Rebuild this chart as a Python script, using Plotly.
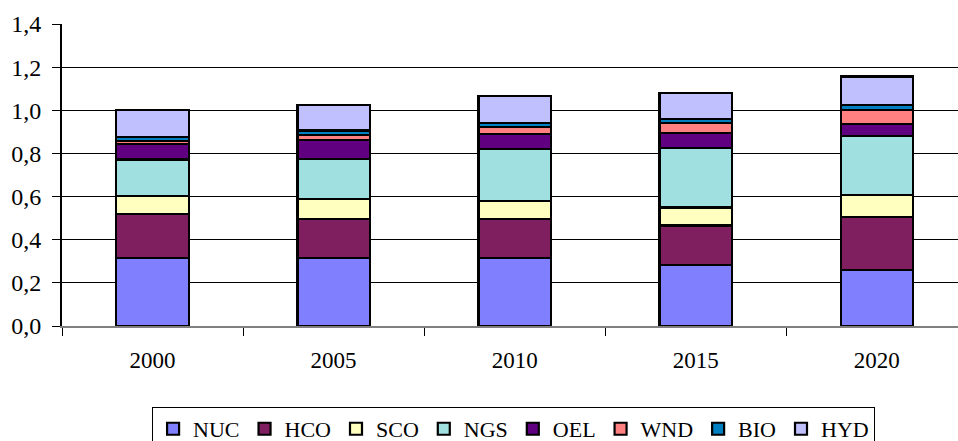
import plotly.graph_objects as go

# Years on the category axis
years = ["2000", "2005", "2010", "2015", "2020"]

# Stacked shares per technology, bottom to top
nuc = [0.315, 0.315, 0.315, 0.284, 0.258]
hco = [0.203, 0.182, 0.180, 0.182, 0.249]
sco = [0.085, 0.090, 0.085, 0.083, 0.100]
ngs = [0.169, 0.189, 0.242, 0.275, 0.273]
oel = [0.072, 0.085, 0.067, 0.070, 0.058]
wnd = [0.012, 0.024, 0.035, 0.046, 0.062]
bio = [0.022, 0.021, 0.018, 0.021, 0.023]
hyd = [0.122, 0.117, 0.123, 0.119, 0.134]

series = [
    ("NUC", nuc, "#8080FF"),
    ("HCO", hco, "#7F1F5F"),
    ("SCO", sco, "#FFFFC0"),
    ("NGS", ngs, "#A0E0E0"),
    ("OEL", oel, "#600080"),
    ("WND", wnd, "#FF8080"),
    ("BIO", bio, "#0080C0"),
    ("HYD", hyd, "#C0C0FF"),
]

y_ticks = [0.0, 0.2, 0.4, 0.6, 0.8, 1.0, 1.2, 1.4]

fig = go.Figure()
for name, vals, color in series:
    fig.add_trace(go.Bar(
        name=name, x=years, y=vals, width=0.4,
        marker=dict(color=color, line=dict(color="black", width=2.2)),
    ))

font_family = "Liberation Serif, Times New Roman, serif"

fig.update_layout(
    barmode="stack",
    width=958, height=441,
    margin=dict(l=62, r=0, t=24, b=114.5, autoexpand=False),
    paper_bgcolor="white", plot_bgcolor="white",
    separators=", ",
    font=dict(family=font_family, size=23, color="black"),
    showlegend=True,
    legend=dict(
        orientation="h", traceorder="normal",
        x=0.504, xanchor="center", y=-0.268, yanchor="top",
        bordercolor="black", borderwidth=1,
        font=dict(family=font_family, size=22, color="black"),
        itemwidth=30, tracegroupgap=0,
    ),
    xaxis=dict(
        type="category", range=[-0.5, 4.448],
        showline=True, linecolor="#808080", linewidth=2,
        ticks="outside", tickson="boundaries", ticklen=8,
        tickcolor="black", tickwidth=1, ticklabelstandoff=12,
        showgrid=False, tickfont=dict(size=23),
    ),
    yaxis=dict(
        range=[0, 1.4], tickvals=y_ticks, tickformat=".1f",
        showline=True, linecolor="black", linewidth=2,
        ticks="outside", ticklen=8, tickcolor="black", tickwidth=1,
        ticklabelstandoff=6,
        showgrid=True, gridcolor="black", gridwidth=1,
        zeroline=False, tickfont=dict(size=24),
    ),
)

fig.write_html("out.html")
